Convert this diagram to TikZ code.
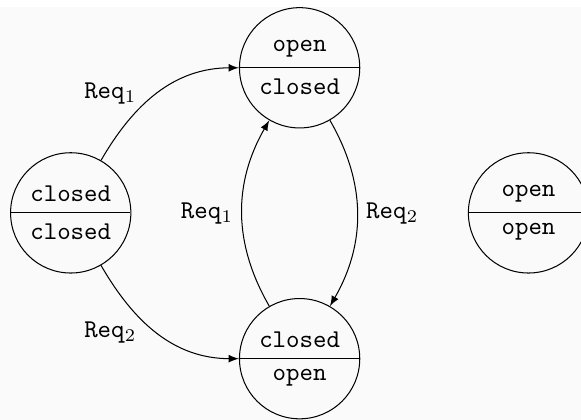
\documentclass[tikz,border=0pt]{standalone}
\usetikzlibrary{shapes.multipart}
\definecolor{bggray}{RGB}{250,250,250}

\begin{document}
\begin{tikzpicture}[>=latex,
        split/.style={draw, circle split, minimum size=1.65cm, inner xsep=1pt, inner ysep=4pt, font=\ttfamily}]
        \useasboundingbox (-0.97,-2.84) rectangle (7.0,2.92);
        \fill [bggray] (-0.97,-2.84) rectangle (7.0,2.83);
        \node (L) at (0,0) [split] {closed \nodepart{lower} closed};
        \node (T) at (3.14,1.99) [split] {open \nodepart{lower} closed};
        \node (B) at (3.14,-2) [split] {closed \nodepart{lower} open};
        \node (R) at (6.28,0) [split] {open \nodepart{lower} open};
        \draw [->] (L) to[out=60,in=180] node[pos=.32,above left,xshift=4pt] {\texttt{Req}$_1$} (T);
        \draw [->] (L) to[out=-60,in=180] node[pos=.32,below left,xshift=4pt] {\texttt{Req}$_2$} (B);
        \draw [->] (T) to[out=-60,in=60] node[right] {\texttt{Req}$_2$} (B);
        \draw [->] (B) to[out=120,in=-120] node[left] {\texttt{Req}$_1$} (T);
    \end{tikzpicture}
\end{document}
